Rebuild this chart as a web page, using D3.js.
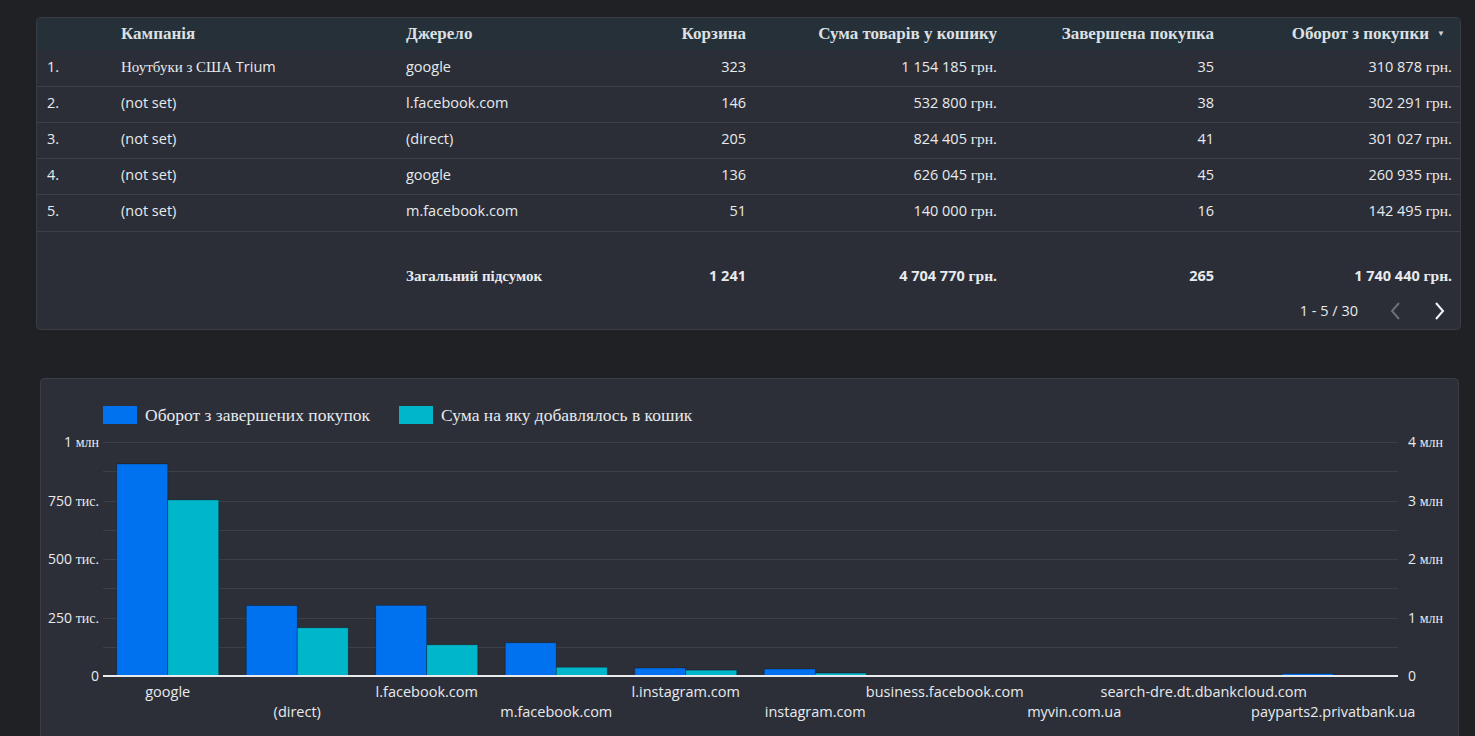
<!DOCTYPE html>
<html>
<head>
<meta charset="utf-8">
<script src="https://cdn.jsdelivr.net/npm/d3@7"></script>
<style>
  body { margin: 0; background: #202124; }
  svg { display: block; }
</style>
</head>
<body>
<div id="chart"></div>
<script>
// table data (top 5 rows of 30)
let rowCampaign = ["Ноутбуки з США Trium", "(not set)", "(not set)", "(not set)", "(not set)"]
let rowSource = ["google", "l.facebook.com", "(direct)", "google", "m.facebook.com"]
let rowCart = ["323", "146", "205", "136", "51"]
let rowCartSum = ["1 154 185 грн.", "532 800 грн.", "824 405 грн.", "626 045 грн.", "140 000 грн."]
let rowPurchases = ["35", "38", "41", "45", "16"]
let rowTurnover = ["310 878 грн.", "302 291 грн.", "301 027 грн.", "260 935 грн.", "142 495 грн."]
let totals = ["1 241", "4 704 770 грн.", "265", "1 740 440 грн."]
let headers = ["Кампанія", "Джерело", "Корзина", "Сума товарів у кошику", "Завершена покупка", "Оборот з покупки"]

// bar chart data
let categories = ["google", "(direct)", "l.facebook.com", "m.facebook.com", "l.instagram.com",
  "instagram.com", "business.facebook.com", "myvin.com.ua", "search-dre.dt.dbankcloud.com", "payparts2.privatbank.ua"]
let turnover = [906000, 301000, 302000, 142000, 34000, 30000, 0, 0, 0, 10000]
let cartSum = [3010000, 824000, 533000, 150000, 100000, 50000, 0, 0, 0, 0]
let leftTicks = [0, 250000, 500000, 750000, 1000000]
let leftLabels = ["0", "250 тис.", "500 тис.", "750 тис.", "1 млн"]
let rightTicks = [0, 1000000, 2000000, 3000000, 4000000]
let rightLabels = ["0", "1 млн", "2 млн", "3 млн", "4 млн"]
let seriesNames = ["Оборот з завершених покупок", "Сума на яку добавлялось в кошик"]

const SANS = "'Open Sans', sans-serif"
const SERIF = "'Liberation Serif', serif"
const BLUE = "#0072f0", TEAL = "#00b6cb"

let svg = d3.select("#chart").append("svg")
  .attr("width", 1475)
  .attr("height", 736)

// writes text where latin/digits go in sans and cyrillic falls back to serif
function mixed(parent, str, x, y, o) {
  o = Object.assign({anchor: "start", size: 14.5, weight: "normal", fill: "#e8eaed", serifSize: null}, o)
  let words = str.split(" ")
  let runs = []
  words.forEach(w => {
    let cyr = /[\u0400-\u04FF]/.test(w)
    let last = runs[runs.length - 1]
    if (last && last.cyr == cyr) last.t += " " + w
    else runs.push({t: w, cyr: cyr})
  })
  let g = parent.append("g")
  let pos = 0
  let gap = o.size * 0.26
  runs.forEach((r, i) => {
    let t = g.append("text")
      .text(r.t)
      .attr("font-family", r.cyr ? SERIF : SANS)
      .attr("font-size", r.cyr ? (o.serifSize || o.size + 1) : o.size)
      .attr("font-weight", o.weight)
      .attr("fill", o.fill)
    r.el = t; r.x = pos
    pos += t.node().getComputedTextLength() + (i < runs.length - 1 ? gap : 0)
  })
  let x0 = o.anchor == "end" ? x - pos : o.anchor == "middle" ? x - pos / 2 : x
  runs.forEach(r => r.el.attr("x", x0 + r.x).attr("y", y))
  return g
}

// ---------- table panel ----------
svg.append("rect")
  .attr("x", 36.5).attr("y", 17.5).attr("width", 1424).attr("height", 312).attr("rx", 4)
  .attr("fill", "#2b2e37").attr("stroke", "#3a3d45")
svg.append("rect")
  .attr("x", 37).attr("y", 18).attr("width", 1423).attr("height", 32)
  .attr("fill", "#263038")

let rowY = [67, 103, 139, 175, 211]
let lineY = [86, 122, 158, 194, 231]
svg.selectAll(".rowline").data(lineY).enter().append("line")
  .attr("x1", 37).attr("x2", 1460)
  .attr("y1", d => d + 0.5).attr("y2", d => d + 0.5)
  .attr("stroke", "#3c4048")

// header
let headX = [121, 406, 746, 997, 1214, 1429]
let headAnchor = ["start", "start", "end", "end", "end", "end"]
headers.forEach((h, i) => {
  mixed(svg, h, headX[i], 39, {anchor: headAnchor[i], weight: "bold", serifSize: 17, fill: "#dce0e5"})
})
svg.append("text").text("▼")
  .attr("x", 1441).attr("y", 36).attr("text-anchor", "middle")
  .attr("font-size", 8).attr("fill", "#cfd3d8")

rowY.forEach((y, i) => {
  let by = y + 5
  mixed(svg, (i + 1) + ".", 47, by)
  mixed(svg, rowCampaign[i], 121, by, {serifSize: 15})
  mixed(svg, rowSource[i], 406, by)
  mixed(svg, rowCart[i], 746, by, {anchor: "end"})
  mixed(svg, rowCartSum[i], 997, by, {anchor: "end", serifSize: 15.5})
  mixed(svg, rowPurchases[i], 1214, by, {anchor: "end"})
  mixed(svg, rowTurnover[i], 1452, by, {anchor: "end", serifSize: 15.5})
})

// totals row
mixed(svg, "Загальний підсумок", 406, 281, {weight: "bold", serifSize: 15})
let totX = [746, 997, 1214, 1452]
totals.forEach((t, i) => {
  mixed(svg, t, totX[i], 281, {anchor: "end", weight: "bold", serifSize: 15.5})
})

// pagination
mixed(svg, "1 - 5 / 30", 1358, 316, {anchor: "end"})
svg.append("path").attr("d", "M1399,303 L1392,311 L1399,319")
  .attr("fill", "none").attr("stroke", "#6b6f76").attr("stroke-width", 2)
svg.append("path").attr("d", "M1436,303 L1443,311 L1436,319")
  .attr("fill", "none").attr("stroke", "#f1f3f4").attr("stroke-width", 2)

// ---------- chart panel ----------
svg.append("rect")
  .attr("x", 40.5).attr("y", 378.5).attr("width", 1418).attr("height", 400).attr("rx", 4)
  .attr("fill", "#2c2f38").attr("stroke", "#3b3e46")

let x = d3.scaleBand().domain(categories).range([103, 1398])
let x1 = d3.scaleBand().domain([0, 1]).range([0, x.bandwidth()]).paddingOuter(0.27)
let yL = d3.scaleLinear().domain([0, 1000000]).range([676, 442])
let yR = d3.scaleLinear().domain([0, 4000000]).range([676, 442])

// gridlines every 125k on the left scale
svg.append("g")
  .selectAll("line")
  .data(d3.range(125000, 1000001, 125000))
  .enter().append("line")
  .attr("x1", 103).attr("x2", 1398)
  .attr("y1", d => Math.round(yL(d)) + 0.5).attr("y2", d => Math.round(yL(d)) + 0.5)
  .attr("stroke", "#3b3f47")

// bars: turnover on the left axis, cart sum on the right axis
let bars = svg.append("g")
categories.forEach((c, i) => {
  let vals = [{v: turnover[i], s: yL, c: BLUE}, {v: cartSum[i], s: yR, c: TEAL}]
  bars.selectAll(null).data(vals).enter().append("rect")
    .attr("x", (d, j) => x(c) + x1(j))
    .attr("y", d => d.s(d.v))
    .attr("width", x1.bandwidth())
    .attr("height", d => 676 - d.s(d.v))
    .attr("fill", d => d.c)
    .attr("stroke", "rgba(0,0,0,0.35)")
    .attr("stroke-width", 0.8)
})

// baseline
svg.append("line")
  .attr("x1", 103).attr("x2", 1398).attr("y1", 676).attr("y2", 676)
  .attr("stroke", "#e8eaed").attr("stroke-width", 2)

// axis labels
leftTicks.forEach((t, i) => {
  mixed(svg, leftLabels[i], 99, yL(t) + 5, {anchor: "end", size: 14, serifSize: 14})
})
rightTicks.forEach((t, i) => {
  mixed(svg, rightLabels[i], 1408, yR(t) + 5, {size: 14, serifSize: 14})
})
categories.forEach((c, i) => {
  mixed(svg, c, x(c) + x.bandwidth() / 2, i % 2 == 0 ? 697 : 717, {anchor: "middle"})
})

// legend
let legX = [103, 399]
let legC = [BLUE, TEAL]
seriesNames.forEach((n, i) => {
  svg.append("rect").attr("x", legX[i]).attr("y", 406).attr("width", 34).attr("height", 18).attr("fill", legC[i])
  mixed(svg, n, legX[i] + 42, 421, {serifSize: 17.5})
})
</script>
</body>
</html>
